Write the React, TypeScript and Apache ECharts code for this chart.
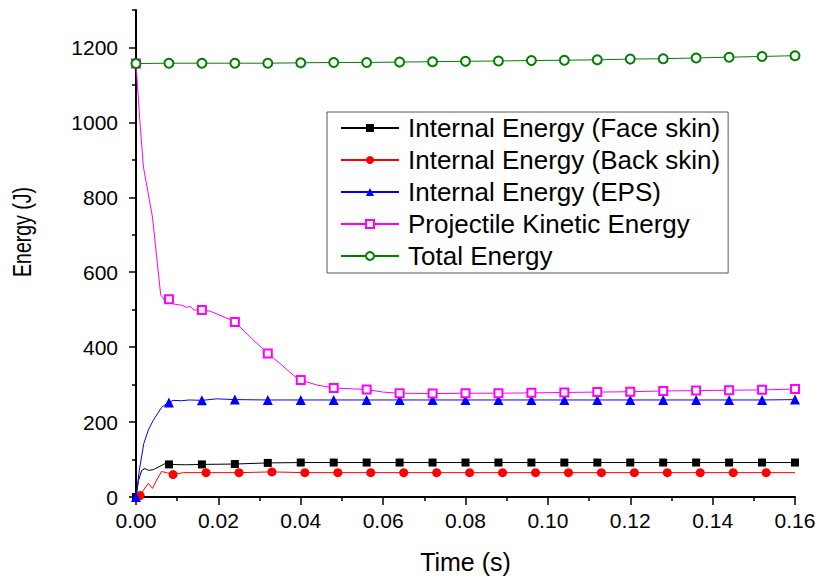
import React, { useEffect, useRef } from "react";
import * as echarts from "echarts";

const FONT = "'Liberation Sans', Arial, Helvetica, sans-serif";

const seriesNames = [
  "Internal Energy (Face skin)",
  "Internal Energy (Back skin)",
  "Internal Energy (EPS)",
  "Projectile Kinetic Energy",
  "Total Energy",
];

// Time (s) and energy (J)
const faceTime = [0, 0.0006, 0.0014, 0.0022, 0.003, 0.0042, 0.0058, 0.007, 0.008, 0.012, 0.016, 0.024, 0.032, 0.04, 0.048, 0.056, 0.064, 0.072, 0.08, 0.088, 0.096, 0.104, 0.112, 0.12, 0.128, 0.136, 0.144, 0.152, 0.16];
const faceEnergy = [0, 44, 71, 76, 71, 73, 82, 89, 87, 86, 87, 88, 91, 92, 92, 92, 92, 92, 92, 92, 92, 92, 92, 92, 92, 92, 92, 92, 92];

const backTime = [0, 0.001, 0.0018, 0.003, 0.004, 0.005, 0.0062, 0.0074, 0.009, 0.0115, 0.017, 0.025, 0.033, 0.041, 0.049, 0.057, 0.065, 0.073, 0.081, 0.089, 0.097, 0.105, 0.113, 0.121, 0.129, 0.137, 0.145, 0.153, 0.16];
const backEnergy = [0, 4, 18, 36, 23, 45, 68, 65, 60, 65, 65, 65, 67, 65, 65, 65, 65, 65, 65, 65, 65, 65, 65, 65, 65, 65, 65, 65, 65];

const epsTime = [0, 0.0004, 0.0008, 0.0019, 0.003, 0.0042, 0.0052, 0.0062, 0.007, 0.008, 0.009, 0.011, 0.013, 0.016, 0.0196, 0.024, 0.032, 0.04, 0.048, 0.056, 0.064, 0.072, 0.08, 0.088, 0.096, 0.104, 0.112, 0.12, 0.128, 0.136, 0.144, 0.152, 0.16];
const epsEnergy = [0, 35, 71, 143, 179, 205, 222, 239, 246, 252, 258, 257, 259, 258, 262, 260, 259, 259, 259, 259, 259, 259, 259, 259, 259, 259, 259, 259, 259, 259, 259, 259, 260];

const kineticTime = [0, 0.0009, 0.0018, 0.004, 0.006, 0.007, 0.008, 0.0091, 0.0111, 0.0123, 0.0131, 0.0141, 0.016, 0.018, 0.0204, 0.0228, 0.024, 0.0285, 0.032, 0.035, 0.0382, 0.04, 0.0439, 0.048, 0.056, 0.06, 0.064, 0.072, 0.08, 0.088, 0.096, 0.104, 0.112, 0.12, 0.128, 0.136, 0.144, 0.152, 0.16];
const kineticEnergy = [1157, 1010, 881, 747, 539, 525, 528, 515, 512, 506, 509, 499, 499, 496, 485, 474, 467, 419, 383, 356, 325, 312, 299, 291, 287, 280, 277, 276, 277, 277, 278, 279, 280, 281, 283, 284, 285, 286, 288];

const totalTime = [0, 0.008, 0.016, 0.024, 0.032, 0.04, 0.048, 0.056, 0.064, 0.072, 0.08, 0.088, 0.096, 0.104, 0.112, 0.12, 0.128, 0.136, 0.144, 0.152, 0.16];
const totalEnergy = [1157, 1158, 1158, 1158, 1158, 1159, 1160, 1160, 1161, 1162, 1163, 1164, 1165, 1166, 1167, 1169, 1170, 1172, 1174, 1176, 1178];

const yMajorTicks = [0, 200, 400, 600, 800, 1000, 1200];
const yMinorTicks = [100, 300, 500, 700, 900, 1100, 1300];

const MARKER_STEP = 0.008;

function buildData(times: number[], values: number[], offset: number) {
  return times.map((t, i) => {
    const k = (t - offset) / MARKER_STEP;
    const isMarker = t >= offset - 1e-9 && Math.abs(k - Math.round(k)) < 1e-6;
    return isMarker
      ? { value: [t, values[i]] }
      : { value: [t, values[i]], symbol: "none" };
  });
}

export default function App() {
  const ref = useRef<HTMLDivElement>(null);

  useEffect(() => {
    if (!ref.current) return;
    const chart = echarts.init(ref.current, null, { renderer: "svg" });

    const mk = (
      idx: number,
      times: number[],
      values: number[],
      offset: number,
      color: string,
      symbol: string,
      size: number
    ) => ({
      name: seriesNames[idx],
      type: "line",
      xAxisIndex: 0,
      yAxisIndex: 0,
      data: buildData(times, values, offset),
      symbol,
      symbolSize: size,
      showSymbol: true,
      color,
      lineStyle: { color, width: 1 },
      itemStyle: { color, borderColor: color, borderWidth: symbol.startsWith("empty") ? 1.3 : 0 },
      emphasis: { disabled: true },
      z: 3 + idx,
    });

    chart.setOption({
      animation: false,
      backgroundColor: "#ffffff",
      textStyle: { fontFamily: FONT },
      grid: { left: 136, right: 26, top: 10, bottom: 89, containLabel: false },
      legend: {
        orient: "vertical",
        left: 327,
        top: 112,
        padding: [0, 8, 1, 13],
        itemWidth: 58,
        itemHeight: 10,
        itemGap: 0,
        borderColor: "#555555",
        borderWidth: 1,
        backgroundColor: "#ffffff",
        textStyle: { fontSize: 26, fontFamily: FONT, color: "#000", lineHeight: 32, padding: [0, 0, 0, 4] },
        data: seriesNames,
        selectedMode: false,
      },
      xAxis: [
        {
          type: "value",
          min: 0,
          max: 0.16,
          interval: 0.02,
          name: "Time (s)",
          nameLocation: "middle",
          nameGap: 52,
          nameTextStyle: { fontSize: 25, fontFamily: FONT, color: "#000" },
          axisLine: { show: true, onZero: false, lineStyle: { color: "#000", width: 2 } },
          axisTick: { show: true, inside: false, length: 8, lineStyle: { color: "#000", width: 1.5 } },
          minorTick: { show: true, splitNumber: 2, length: 4, lineStyle: { color: "#000", width: 1.5 } },
          axisLabel: {
            fontSize: 21,
            fontFamily: FONT,
            color: "#000",
            margin: 13,
            formatter: (v: number) => v.toFixed(2),
          },
          splitLine: { show: false },
          minorSplitLine: { show: false },
        },
      ],
      yAxis: [
        {
          type: "value",
          min: 0,
          max: 1300,
          position: "left",
          axisLine: { show: true, onZero: false, lineStyle: { color: "#000", width: 2 } },
          axisTick: { show: true, inside: false, length: 7, customValues: yMajorTicks, lineStyle: { color: "#000", width: 1.5 } },
          axisLabel: {
            fontSize: 21,
            fontFamily: FONT,
            color: "#000",
            margin: 18,
            customValues: yMajorTicks,
            formatter: (v: number) => String(v),
          },
          splitLine: { show: false },
        },
        {
          type: "value",
          min: 0,
          max: 1300,
          position: "left",
          axisLine: { show: false },
          axisTick: { show: true, inside: false, length: 4, customValues: yMinorTicks, lineStyle: { color: "#000", width: 1.5 } },
          axisLabel: { show: false },
          splitLine: { show: false },
        },
      ],
      graphic: [
        {
          type: "text",
          x: 23,
          y: 232,
          rotation: Math.PI / 2,
          scaleX: 0.78,
          style: {
            text: "Energy (J)",
            font: `25px ${FONT}`,
            fill: "#000",
            textAlign: "center",
            textVerticalAlign: "middle",
          },
        },
      ],
      series: [
        mk(0, faceTime, faceEnergy, 0, "#000000", "rect", 8),
        mk(1, backTime, backEnergy, 0.001, "#ff0000", "circle", 9),
        mk(2, epsTime, epsEnergy, 0, "#0000ff", "triangle", 10),
        mk(3, kineticTime, kineticEnergy, 0, "#ff00ff", "emptyRect", 8),
        mk(4, totalTime, totalEnergy, 0, "#008000", "emptyCircle", 9),
      ],
    });

    return () => chart.dispose();
  }, []);

  return (
    <div
      ref={ref}
      style={{ position: "fixed", left: 0, top: 0, width: 821, height: 586, background: "#fff" }}
    />
  );
}
